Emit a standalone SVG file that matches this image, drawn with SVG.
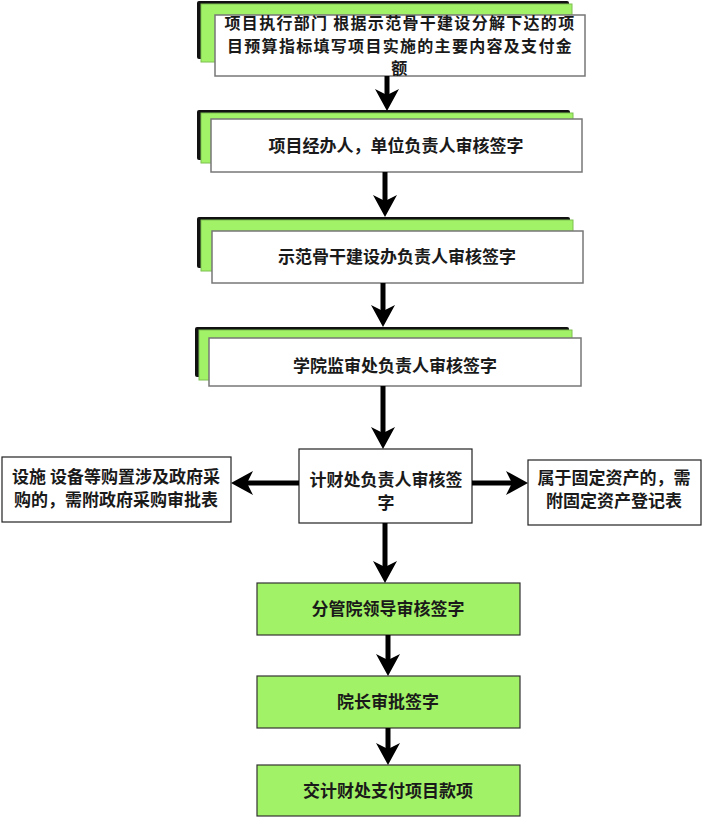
<svg xmlns="http://www.w3.org/2000/svg" width="703" height="818" viewBox="0 0 703 818">
<defs>
<style>
.sh{fill:#111;}
.bk{fill:#a2f267;stroke:#7cc050;stroke-width:1;}
.fr{fill:#fff;stroke:#777;stroke-width:1.5;}
.bx{fill:#fff;stroke:#222;stroke-width:1.2;}
.gb{fill:#a2f267;stroke:#333;stroke-width:1.2;}
text{font-family:"Noto Sans CJK SC","Noto Sans",sans-serif;font-weight:bold;font-size:17px;fill:#1a1a1a;text-anchor:middle;}
.t2{font-size:16px;letter-spacing:1.3px;}
.cn line{stroke:#000;stroke-width:5;marker-end:url(#ah);}
</style>
<marker id="ah" markerUnits="userSpaceOnUse" markerWidth="24" markerHeight="24" refX="8" refY="12" orient="auto" viewBox="0 0 24 24">
<path d="M0,0 L22,12 L0,24 L6,12 Z" fill="#000"/>
</marker>
</defs>
<g id="n1">
<rect class="sh" x="197" y="1" width="372" height="58" rx="2"/>
<rect class="bk" x="201" y="4" width="371" height="58"/>
<rect class="fr" x="215" y="15" width="370" height="61"/>
<text class="t2" x="400" y="29">项目执行部门 根据示范骨干建设分解下达的项</text>
<text class="t2" x="400" y="52">目预算指标填写项目实施的主要内容及支付金</text>
<text class="t2" x="400" y="74">额</text>
</g>
<g id="n2">
<rect class="sh" x="197" y="110" width="373" height="50" rx="2"/>
<rect class="bk" x="201" y="113" width="372" height="50"/>
<rect class="fr" x="211" y="119" width="371" height="53"/>
<text x="396" y="152">项目经办人，单位负责人审核签字</text>
</g>
<g id="n3">
<rect class="sh" x="197" y="217" width="373" height="51" rx="2"/>
<rect class="bk" x="201" y="220" width="372" height="51"/>
<rect class="fr" x="212" y="231" width="371" height="52"/>
<text x="397" y="263">示范骨干建设办负责人审核签字</text>
</g>
<g id="n4">
<rect class="sh" x="195" y="327" width="374" height="50" rx="2"/>
<rect class="bk" x="199" y="330" width="373" height="50"/>
<rect class="fr" x="209" y="338" width="372" height="48"/>
<text x="395" y="372">学院监审处负责人审核签字</text>
</g>
<g id="n5">
<rect class="bx" x="299" y="449" width="173" height="74"/>
<text x="386" y="486">计财处负责人审核签</text>
<text x="386" y="509">字</text>
</g>
<g id="n6">
<rect class="bx" x="2" y="457" width="229" height="65"/>
<text x="116" y="483">设施 设备等购置涉及政府采</text>
<text x="116" y="506">购的，需附政府采购审批表</text>
</g>
<g id="n7">
<rect class="bx" x="528" y="460" width="173" height="65"/>
<text x="614" y="484">属于固定资产的，需</text>
<text x="614" y="507">附固定资产登记表</text>
</g>
<g id="n8">
<rect class="gb" x="257" y="583" width="263" height="52"/>
<text x="388" y="615">分管院领导审核签字</text>
</g>
<g id="n9">
<rect class="gb" x="257" y="676" width="263" height="52"/>
<text x="388" y="708">院长审批签字</text>
</g>
<g id="n10">
<rect class="gb" x="257" y="765" width="263" height="51"/>
<text x="388" y="797">交计财处支付项目款项</text>
</g>
<g id="connectors" class="cn">
<line x1="387" y1="76" x2="387" y2="97"/>
<line x1="385" y1="172" x2="385" y2="203"/>
<line x1="383" y1="283" x2="383" y2="313"/>
<line x1="383" y1="386" x2="383" y2="435"/>
<line x1="385" y1="523" x2="385" y2="569"/>
<line x1="388" y1="635" x2="388" y2="662"/>
<line x1="388" y1="728" x2="388" y2="751"/>
<line x1="299" y1="483" x2="245" y2="483"/>
<line x1="472" y1="483" x2="514" y2="483"/>
</g>
</svg>
